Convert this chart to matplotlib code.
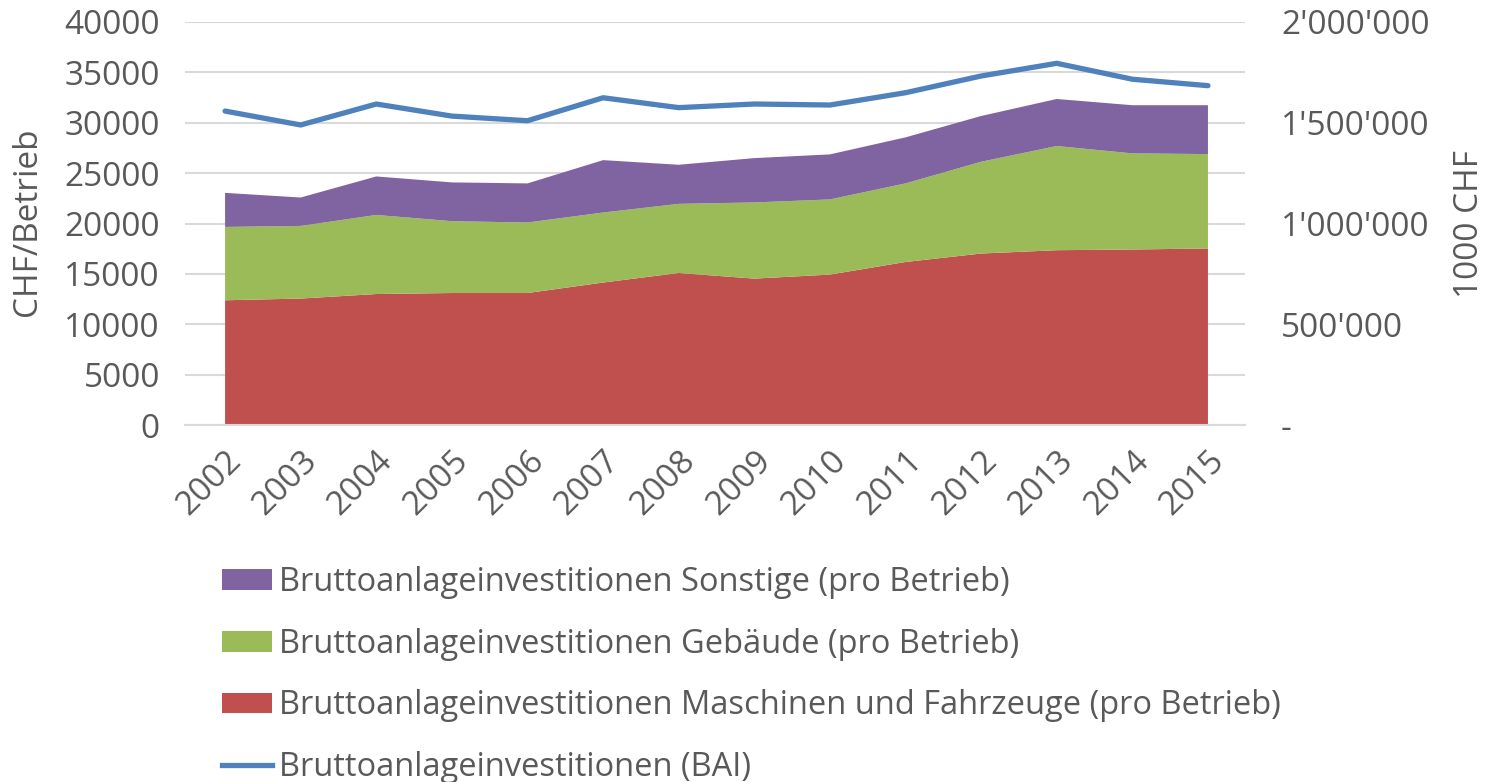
import numpy as np
import matplotlib.pyplot as plt
from matplotlib.patches import Patch
from matplotlib.lines import Line2D

# =========================
# DATA
# =========================
years = [2002, 2003, 2004, 2005, 2006, 2007, 2008, 2009, 2010, 2011, 2012, 2013, 2014, 2015]
maschinen = [12380, 12550, 13000, 13100, 13100, 14140, 15090, 14530, 14930, 16180, 17020, 17350, 17420, 17520]
gebaeude = [7280, 7210, 7850, 7130, 7000, 6950, 6860, 7560, 7460, 7800, 9110, 10340, 9540, 9370]
sonstige = [3380, 2820, 3820, 3850, 3880, 5200, 3880, 4400, 4470, 4570, 4540, 4670, 4780, 4850]
bai = [1558000, 1489000, 1593000, 1533000, 1510000, 1624000, 1575000, 1593000,
       1588000, 1649000, 1732000, 1795000, 1716000, 1684000]

labels = [
    "Bruttoanlageinvestitionen Sonstige (pro Betrieb)",
    "Bruttoanlageinvestitionen Gebäude (pro Betrieb)",
    "Bruttoanlageinvestitionen Maschinen und Fahrzeuge (pro Betrieb)",
    "Bruttoanlageinvestitionen (BAI)",
]

RED = "#C0504D"
GREEN = "#9BBB59"
PURPLE = "#8064A2"
BLUE = "#4F81BD"
TEXT = "#595959"
GRID = "#D9D9D9"
FS = 24
LEG_FS = 23.5

plt.rcParams["font.family"] = ["Open Sans", "DejaVu Sans"]

# =========================
# PLOT
# =========================
fig = plt.figure(figsize=(14.94, 7.82), dpi=100)
W, H = 1494, 782
ax = fig.add_axes([185 / W, 1 - 425 / H, (1245 - 185) / W, (425 - 22) / H])

ax.stackplot(years, maschinen, gebaeude, sonstige,
             colors=[RED, GREEN, PURPLE], linewidth=0, zorder=2)

ax.set_xlim(2001.47, 2015.49)
ax.set_ylim(0, 40000)
ax.set_yticks(np.arange(0, 40001, 5000))
ax.set_yticklabels([str(v) for v in range(0, 40001, 5000)])
ax.yaxis.grid(True, color=GRID, linewidth=1.5, zorder=0)
ax.set_axisbelow(True)
ax.set_xticks(years)
ax.set_xticklabels([str(y) for y in years], rotation=45, ha="right",
                   rotation_mode="anchor")
ax.tick_params(axis="x", length=0, pad=14, labelsize=FS, labelcolor=TEXT)
ax.tick_params(axis="y", length=0, pad=18, labelsize=FS, labelcolor=TEXT)
for side in ["top", "left", "right"]:
    ax.spines[side].set_visible(False)
ax.spines["bottom"].set_color(GRID)
ax.spines["bottom"].set_linewidth(1.5)

ax2 = ax.twinx()
ax2.plot(years, bai, color=BLUE, linewidth=3.8, solid_capstyle="round", zorder=3)
ax2.set_ylim(0, 2000000)
ax2.set_yticks(np.arange(0, 2000001, 500000))
ax2.set_yticklabels(["-", "500'000", "1'000'000", "1'500'000", "2'000'000"])
ax2.tick_params(axis="y", length=0, pad=26, labelsize=FS, labelcolor=TEXT)
for side in ["top", "left", "right", "bottom"]:
    ax2.spines[side].set_visible(False)

fig.text(28 / W, 1 - 222 / H, "CHF/Betrieb", rotation=90, ha="center",
         va="center", fontsize=FS, color=TEXT)
fig.text(1469 / W, 1 - 224 / H, "1000 CHF", rotation=90, ha="center",
         va="center", fontsize=FS, color=TEXT)

handles = [
    Patch(facecolor=PURPLE, edgecolor="none"),
    Patch(facecolor=GREEN, edgecolor="none"),
    Patch(facecolor=RED, edgecolor="none"),
    Line2D([0], [0], color=BLUE, linewidth=3.8),
]
fig.legend(handles, labels, loc="upper left", bbox_to_anchor=(222 / W, 1 - 566 / H),
           frameon=False, fontsize=LEG_FS, labelcolor=TEXT, handlelength=1.53,
           handleheight=0.6, handletextpad=0.22, labelspacing=0.88,
           borderpad=0, borderaxespad=0)

fig.savefig("out.png", dpi=100)
